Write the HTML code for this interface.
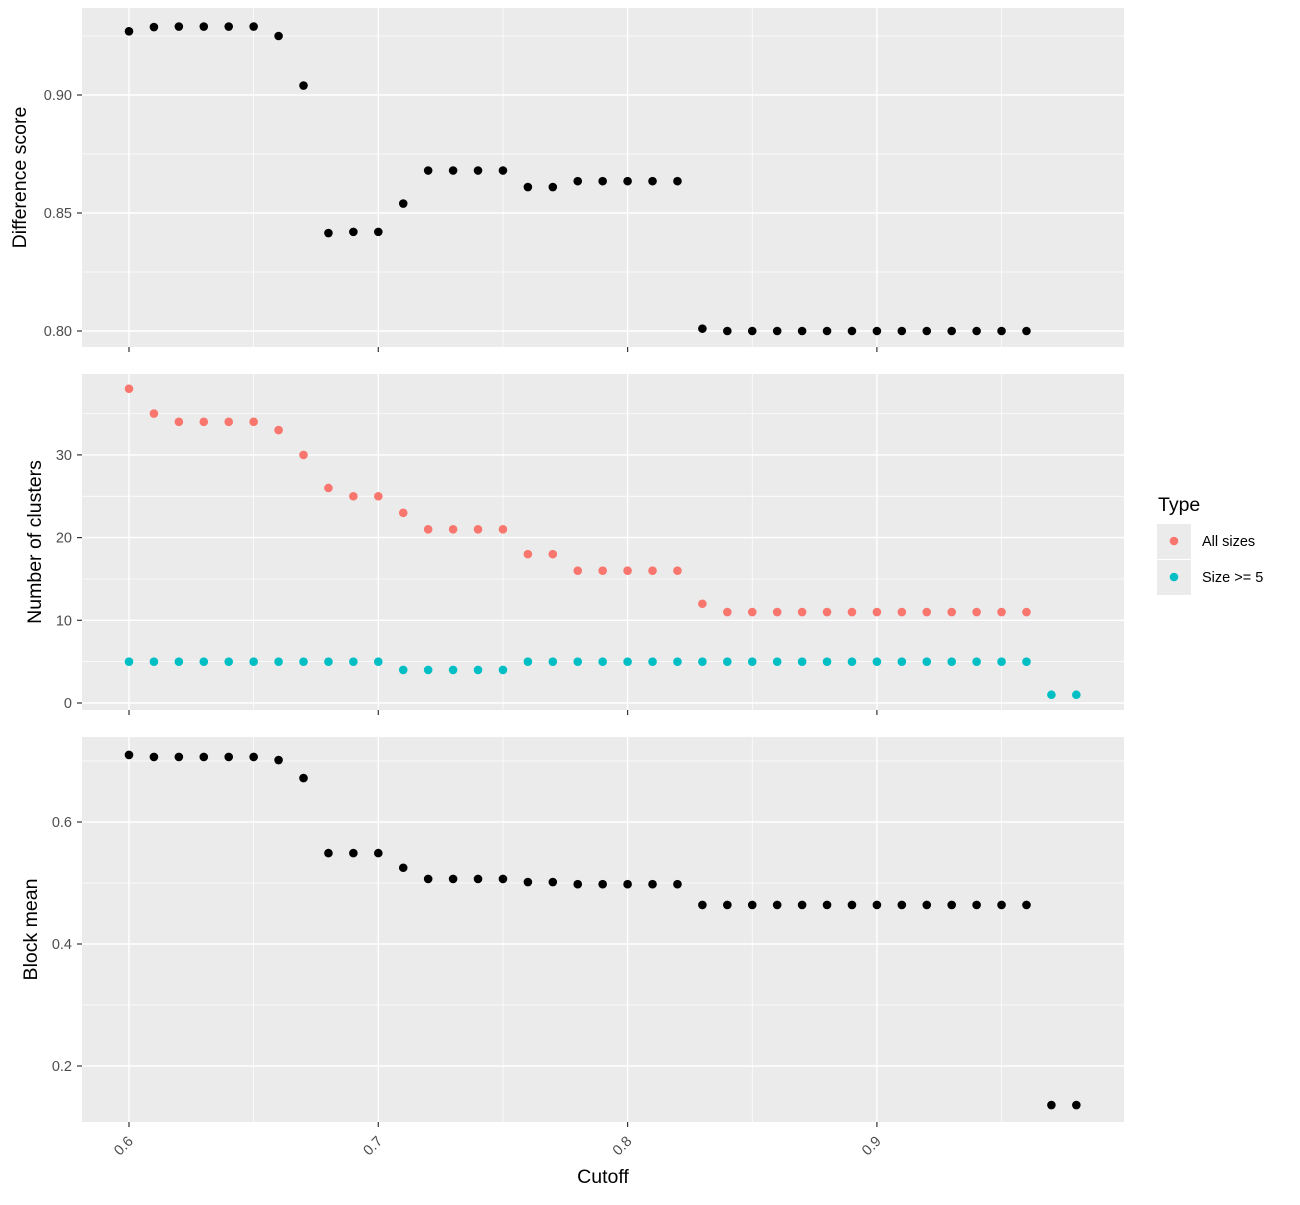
<!DOCTYPE html>
<html><head><meta charset="utf-8"><style>
body{margin:0;background:#fff}
svg{font-family:"Liberation Sans",sans-serif}
</style></head><body>
<svg id="c" width="1300" height="1200" xmlns="http://www.w3.org/2000/svg"></svg>
<script>
const cutoffs=[0.60,0.61,0.62,0.63,0.64,0.65,0.66,0.67,0.68,0.69,0.70,0.71,0.72,0.73,0.74,0.75,0.76,0.77,0.78,0.79,0.80,0.81,0.82,0.83,0.84,0.85,0.86,0.87,0.88,0.89,0.90,0.91,0.92,0.93,0.94,0.95,0.96,0.97,0.98];
const diffScore=[0.927,0.9288,0.929,0.929,0.929,0.929,0.925,0.904,0.8415,0.842,0.842,0.854,0.868,0.868,0.868,0.868,0.861,0.861,0.8635,0.8635,0.8635,0.8635,0.8635,0.801,0.8,0.8,0.8,0.8,0.8,0.8,0.8,0.8,0.8,0.8,0.8,0.8,0.8,null,null];
const allSizes=[38,35,34,34,34,34,33,30,26,25,25,23,21,21,21,21,18,18,16,16,16,16,16,12,11,11,11,11,11,11,11,11,11,11,11,11,11,null,null];
const size5=[5,5,5,5,5,5,5,5,5,5,5,4,4,4,4,4,5,5,5,5,5,5,5,5,5,5,5,5,5,5,5,5,5,5,5,5,5,1,1];
const blockMean=[0.71,0.7066,0.7066,0.7066,0.7066,0.7066,0.7016,0.672,0.549,0.549,0.549,0.525,0.5066,0.5066,0.5066,0.5066,0.5016,0.5016,0.498,0.498,0.498,0.498,0.498,0.464,0.464,0.464,0.464,0.464,0.464,0.464,0.464,0.464,0.464,0.464,0.464,0.464,0.464,0.136,0.136];
const xTicks=[0.6,0.7,0.8,0.9];
const xMinor=[0.65,0.75,0.85,0.95];
const p1Ticks=[0.80,0.85,0.90], p1Minor=[0.825,0.875,0.925];
const p2Ticks=[0,10,20,30], p2Minor=[5,15,25,35];
const p3Ticks=[0.2,0.4,0.6], p3Minor=[0.3,0.5,0.7];

const svg=document.getElementById('c');const NS='http://www.w3.org/2000/svg';
function mk(t,a,p){const e=document.createElementNS(NS,t);for(const k in a)e.setAttribute(k,a[k]);(p||svg).appendChild(e);return e;}
const L=82,R=1124;
const xs=v=>129+(v-0.6)*2493;
function panel(name,top,bot,ys,ticks,minor,fmt,title,tx){
  const g=mk('g',{});
  
  
  mk('rect',{x:L,y:top,width:R-L,height:bot-top,fill:'#ebebeb'},g);
  minor.forEach(v=>mk('line',{x1:L,x2:R,y1:ys(v),y2:ys(v),stroke:'#fff','stroke-width':0.7},g));
  xMinor.forEach(v=>mk('line',{x1:xs(v),x2:xs(v),y1:top,y2:bot,stroke:'#fff','stroke-width':0.7},g));
  ticks.forEach(v=>{mk('line',{x1:L,x2:R,y1:ys(v),y2:ys(v),stroke:'#fff','stroke-width':1.4},g);
    mk('line',{x1:L-5,x2:L,y1:ys(v),y2:ys(v),stroke:'#333','stroke-width':1.2},g);
    const t=mk('text',{x:L-10,y:ys(v)+5,'text-anchor':'end','font-size':14.5,fill:'#4d4d4d'},g);t.textContent=fmt(v);});
  xTicks.forEach(v=>{mk('line',{x1:xs(v),x2:xs(v),y1:top,y2:bot,stroke:'#fff','stroke-width':1.4},g);
    mk('line',{x1:xs(v),x2:xs(v),y1:bot,y2:bot+5,stroke:'#333','stroke-width':1.2},g);});
  const cy=(top+bot)/2;
  const t=mk('text',{x:tx,y:cy,'text-anchor':'middle','font-size':19.5,fill:'#000',transform:`rotate(-90 ${tx} ${cy})`},g);t.textContent=title;
  
  
  return g;
}
function pts(g,vals,ys,col,name){vals.forEach((v,i)=>{if(v==null)return;const c=mk('circle',{cx:xs(cutoffs[i]),cy:ys(v),r:4.3,fill:col},g);
  
  });}
const y1=v=>95+(0.90-v)*2360;
const g1=panel('difference-score',8,347,y1,p1Ticks,p1Minor,v=>v.toFixed(2),'Difference score',26);
pts(g1,diffScore,y1,'#000','difference-point');
const y2=v=>703-v*8.27;
const g2=panel('clusters',374,710,y2,p2Ticks,p2Minor,v=>String(v),'Number of clusters',41);
pts(g2,allSizes,y2,'#f8766d','all-sizes-point');pts(g2,size5,y2,'#00bfc4','size5-point');
const y3=v=>822-(v-0.6)*610;
const g3=panel('block-mean',737,1122,y3,p3Ticks,p3Minor,v=>v.toFixed(1),'Block mean',37);
pts(g3,blockMean,y3,'#000','block-mean-point');
xTicks.forEach(v=>{const x=xs(v),y=1131;const t=mk('text',{x:x+5,y:y+11,'text-anchor':'end','font-size':14.5,fill:'#4d4d4d',transform:`rotate(-45 ${x+5} ${y+11})`});t.textContent=v.toFixed(1);
  
  });
const xt=mk('text',{x:603,y:1183,'text-anchor':'middle','font-size':19.5});xt.textContent='Cutoff';


const lg=mk('g',{});


const lt=mk('text',{x:1158,y:511,'font-size':19.5},lg);lt.textContent='Type';
[['All sizes','#f8766d',541],['Size >= 5','#00bfc4',577]].forEach(([n,c,y])=>{
  mk('rect',{x:1157,y:y-17,width:34,height:35,fill:'#ebebeb'},lg);
  mk('circle',{cx:1174,cy:y,r:4.3,fill:c},lg);
  const t=mk('text',{x:1202,y:y+5,'font-size':14.5},lg);t.textContent=n;
  
  
});
</script>
</body></html>
